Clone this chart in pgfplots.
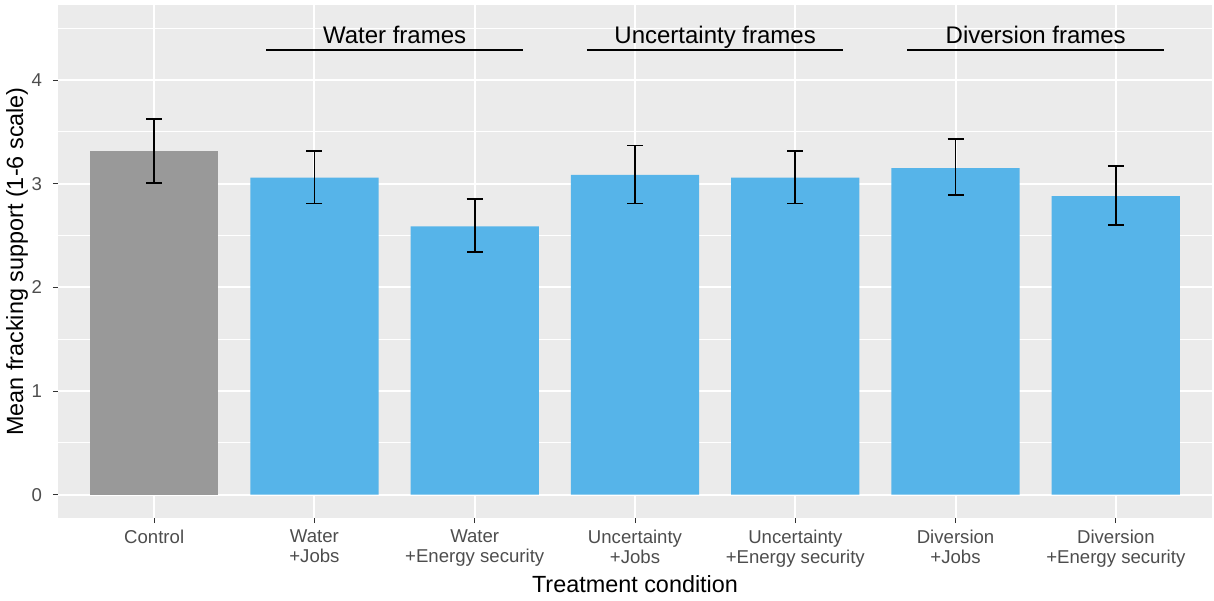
\documentclass[border=0pt]{standalone}
\usepackage{pgfplots}
\pgfplotsset{compat=1.18}
\usepackage{fontspec}
\setmainfont{Liberation Sans}
\definecolor{ggbg}{HTML}{EBEBEB}
\definecolor{ctrl}{HTML}{999999}
\definecolor{treat}{HTML}{56B4E9}
\definecolor{ticktxt}{HTML}{4D4D4D}
\definecolor{tickcol}{HTML}{333333}
\begin{document}
\begin{tikzpicture}
\begin{axis}[
  scale only axis,
  width=577pt, height=256.5pt,
  xmin=0.4, xmax=7.6, ymin=-0.225, ymax=4.725,
  axis background/.style={fill=ggbg},
  axis line style={draw=none},
  ybar, bar width=0.8,
  xtick={1,2,3,4,5,6,7},
  xticklabels={Control,{Water\\+Jobs},{Water\\+Energy security},{Uncertainty\\+Jobs},{Uncertainty\\+Energy security},{Diversion\\+Jobs},{Diversion\\+Energy security}},
  xticklabel style={align=center, font=\fontsize{9.3}{10}\selectfont, text=ticktxt},
  ytick={0,1,2,3,4},
  minor ytick={0.5,1.5,2.5,3.5,4.5},
  yticklabel style={font=\fontsize{9.3}{10}\selectfont, text=ticktxt, xshift=-2pt},
  /pgf/number format/assume math mode=true,
  tick pos=left, tick align=outside,
  major tick length=2.5pt, minor tick length=0pt,
  tick style={tickcol, line width=0.5pt},
  grid=both,
  major grid style={white, line width=1pt},
  minor grid style={white, line width=0.5pt},
  minor x tick num=0,
  xlabel={Treatment condition},
  ylabel={Mean fracking support (1-6 scale)},
  label style={font=\fontsize{11.7}{12}\selectfont},
  xlabel style={yshift=3pt},
  ylabel style={yshift=-5pt},
  clip=false,
]
\addplot[fill=ctrl, draw=none, bar shift=0pt,
  error bars/.cd, y dir=both, y explicit,
  error bar style={black, line width=0.9pt},
  error mark options={rotate=90, black, line width=0.9pt, mark size=4pt}]
  table[x=x, y=y, y error plus=ep, y error minus=em] {
x y ep em
1 3.32 0.305 0.31
};
\addplot[fill=treat, draw=none, bar shift=0pt,
  error bars/.cd, y dir=both, y explicit,
  error bar style={black, line width=0.9pt},
  error mark options={rotate=90, black, line width=0.9pt, mark size=4pt}]
  table[x=x, y=y, y error plus=ep, y error minus=em] {
x y ep em
2 3.06 0.26 0.25
3 2.59 0.265 0.25
4 3.087 0.283 0.277
5 3.06 0.26 0.25
6 3.15 0.28 0.26
7 2.88 0.29 0.275
};
\addplot[sharp plot, black, line width=0.85pt, bar shift=0pt, mark=none] coordinates {(1.7,4.29) (3.3,4.29)};
\addplot[sharp plot, black, line width=0.85pt, bar shift=0pt, mark=none] coordinates {(3.7,4.29) (5.3,4.29)};
\addplot[sharp plot, black, line width=0.85pt, bar shift=0pt, mark=none] coordinates {(5.7,4.29) (7.3,4.29)};
\node[anchor=base, font=\fontsize{12}{12}\selectfont] at (axis cs:2.5,4.35) {Water frames};
\node[anchor=base, font=\fontsize{12}{12}\selectfont] at (axis cs:4.5,4.35) {Uncertainty frames};
\node[anchor=base, font=\fontsize{12}{12}\selectfont] at (axis cs:6.5,4.35) {Diversion frames};
\coordinate (ll) at (rel axis cs:0,0);
\coordinate (ur) at (rel axis cs:1,1);
\end{axis}
\pgfresetboundingbox
\path ([shift={(-29pt,-41pt)}]ll) rectangle ([shift={(1pt,2.5pt)}]ur);
\end{tikzpicture}
\end{document}
